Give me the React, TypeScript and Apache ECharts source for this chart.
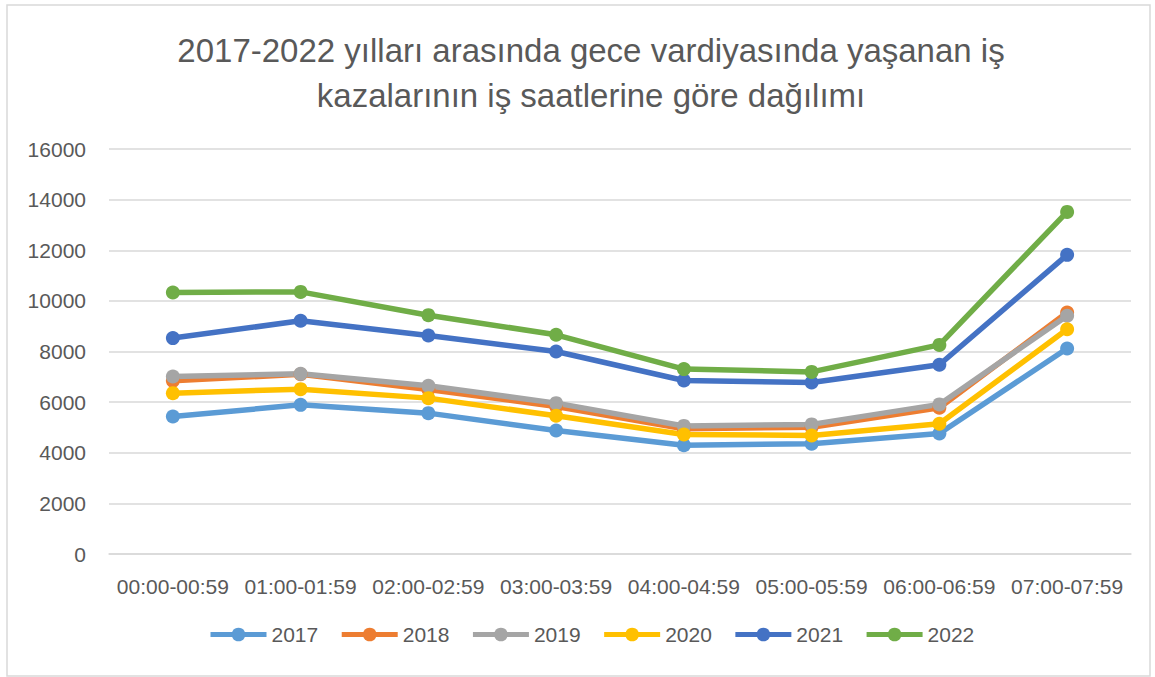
import React, { useEffect, useRef } from "react";
import * as echarts from "echarts";

const categories = [
  "00:00-00:59",
  "01:00-01:59",
  "02:00-02:59",
  "03:00-03:59",
  "04:00-04:59",
  "05:00-05:59",
  "06:00-06:59",
  "07:00-07:59",
];

const years = ["2017", "2018", "2019", "2020", "2021", "2022"];

const s2017 = [5430, 5893, 5565, 4880, 4300, 4355, 4760, 8120];
const s2018 = [6840, 7100, 6500, 5830, 4950, 5010, 5780, 9540];
const s2019 = [7010, 7118, 6644, 5960, 5060, 5120, 5910, 9410];
const s2020 = [6355, 6513, 6158, 5460, 4720, 4683, 5145, 8880];
const s2021 = [8530, 9213, 8632, 8000, 6855, 6775, 7475, 11818];
const s2022 = [10330, 10355, 9435, 8660, 7305, 7195, 8260, 13514];

const seriesValues = [s2017, s2018, s2019, s2020, s2021, s2022];
const colors = ["#5B9BD5", "#ED7D31", "#A5A5A5", "#FFC000", "#4472C4", "#70AD47"];

const titleLines = [
  "2017-2022 yılları arasında gece vardiyasında yaşanan iş",
  "kazalarının iş saatlerine göre dağılımı",
];

const FONT = "'Liberation Sans', Arial, sans-serif";

export default function App() {
  const ref = useRef<HTMLDivElement>(null);
  useEffect(() => {
    if (!ref.current) return;
    const chart = echarts.init(ref.current, undefined, { renderer: "svg" });
    chart.setOption({
      animation: false,
      backgroundColor: "#ffffff",
      color: colors,
      textStyle: { fontFamily: FONT },
      title: {
        text: titleLines.join("\n"),
        left: 586,
        textAlign: "center",
        top: 23,
        textStyle: {
          fontFamily: FONT,
          fontSize: 33,
          fontWeight: "normal",
          color: "#595959",
          lineHeight: 45,
        },
      },
      graphic: [
        {
          type: "rect",
          shape: { x: 7, y: 5, width: 1143, height: 671 },
          style: { fill: "none", stroke: "#d9d9d9", lineWidth: 1.5 },
          silent: true,
        },
      ],
      legend: {
        bottom: 27,
        left: 203,
        itemWidth: 56,
        itemHeight: 17,
        itemGap: 21,
        lineStyle: { width: 5 },
        textStyle: { fontFamily: FONT, fontSize: 21, color: "#595959" },
        data: years,
      },
      grid: { left: 109, right: 24, top: 149, bottom: 123, containLabel: false },
      xAxis: {
        type: "category",
        data: categories,
        boundaryGap: true,
        axisLine: { lineStyle: { color: "#d9d9d9", width: 1.5 } },
        axisTick: { show: false },
        axisLabel: {
          fontFamily: FONT,
          fontSize: 21,
          color: "#595959",
          margin: 22,
          interval: 0,
          hideOverlap: false,
        },
      },
      yAxis: {
        type: "value",
        min: 0,
        max: 16000,
        interval: 2000,
        axisLine: { show: false },
        axisTick: { show: false },
        splitLine: { lineStyle: { color: "#d9d9d9", width: 1.5 } },
        axisLabel: {
          fontFamily: FONT,
          fontSize: 21,
          color: "#595959",
          margin: 23,
          formatter: (v: number) => String(v),
        },
      },
      series: years.map((y, i) => ({
        name: y,
        type: "line",
        data: seriesValues[i],
        symbol: "circle",
        symbolSize: 14,
        lineStyle: { width: 5.5, color: colors[i] },
        itemStyle: { color: colors[i] },
      })),
    });
    return () => chart.dispose();
  }, []);
  return (
    <div
      ref={ref}
      style={{ position: "fixed", left: 0, top: 0, width: 1155, height: 677 }}
    />
  );
}
